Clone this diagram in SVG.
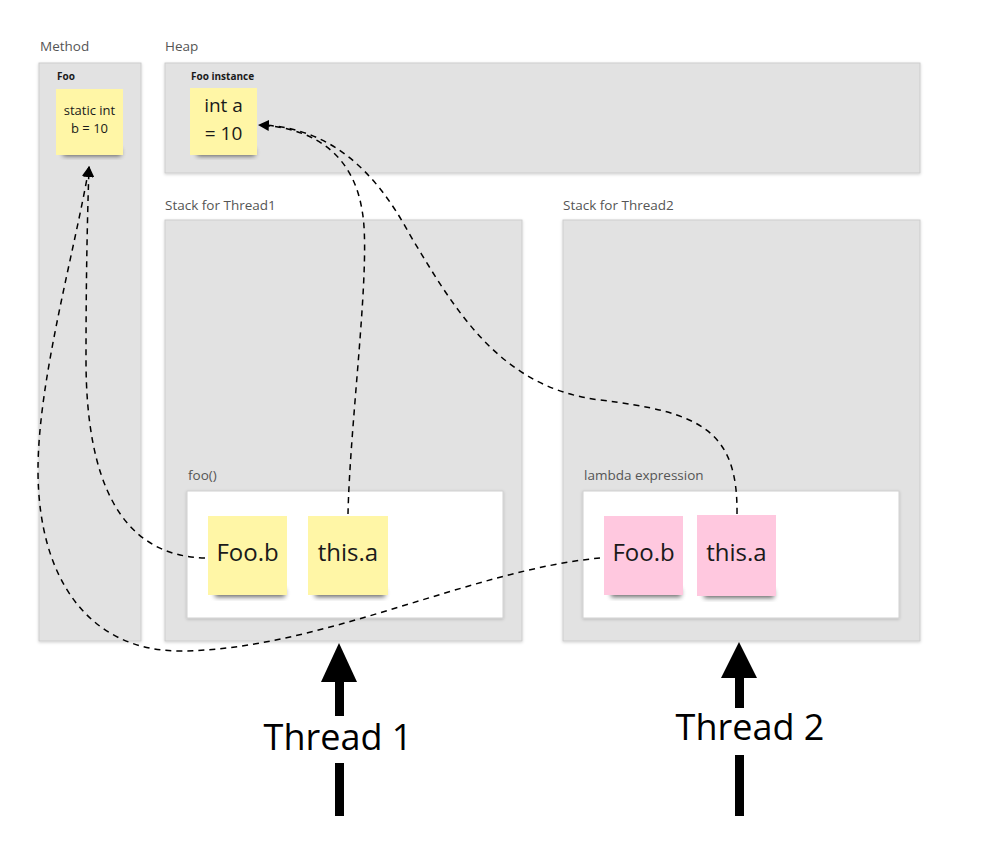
<svg xmlns="http://www.w3.org/2000/svg" width="984" height="854" viewBox="0 0 984 854">
<defs>
<filter id="sh" x="-20%" y="-50%" width="140%" height="200%"><feGaussianBlur stdDeviation="2.5"/></filter>
<filter id="fs" x="-5%" y="-5%" width="110%" height="110%"><feDropShadow dx="0" dy="1" stdDeviation="1.5" flood-color="#000" flood-opacity="0.18"/></filter>
<marker id="ah" viewBox="0 0 10 10" refX="9" refY="5" markerWidth="11" markerHeight="11" markerUnits="userSpaceOnUse" orient="auto"><path d="M0 0 L10 5 L0 10 Z" fill="#000"/></marker>
</defs>
<style>
.frame{fill:#e2e2e2;stroke:#cdcdcd;stroke-width:1;filter:url(#fs)}
.white{fill:#fff;stroke:#d0d0d0;stroke-width:1;filter:url(#fs)}
.lbl{font-family:"Open Sans","Noto Sans",sans-serif;font-size:13.5px;fill:#555}
.blbl{font-family:"Open Sans","Noto Sans",sans-serif;font-size:10px;font-weight:bold;fill:#1a1a1a}
.yel{fill:#fff6a6}
.pink{fill:#ffc8df}
.shd{fill:#000;opacity:0.6;filter:url(#sh)}
.st{font-family:"Open Sans","Noto Sans",sans-serif;fill:#1a1a1a;text-anchor:middle}
.conn{fill:none;stroke:#000;stroke-width:1.5;stroke-dasharray:6 5}
.big{font-family:"Open Sans","Noto Sans",sans-serif;font-size:36px;fill:#000;text-anchor:middle}
</style>
<rect width="984" height="854" fill="#fff"/>

<g id="method-frame">
<text class="lbl" x="40" y="51">Method</text>
<rect class="frame" x="39" y="63" width="102" height="578"/>
<text class="blbl" x="57" y="80">Foo</text>
</g>
<g id="heap-frame">
<text class="lbl" x="165" y="51">Heap</text>
<rect class="frame" x="165" y="63" width="755" height="110"/>
<text class="blbl" x="191" y="80">Foo instance</text>
</g>
<g id="stack-thread1">
<text class="lbl" x="165" y="210">Stack for Thread1</text>
<rect class="frame" x="165" y="220" width="357" height="421"/>
</g>
<g id="stack-thread2">
<text class="lbl" x="563" y="210">Stack for Thread2</text>
<rect class="frame" x="563" y="220" width="357" height="421"/>
</g>
<g id="foo-frame">
<text class="lbl" x="188" y="480">foo()</text>
<rect class="white" x="187" y="491" width="316" height="127"/>
</g>
<g id="lambda-frame">
<text class="lbl" x="584" y="480">lambda expression</text>
<rect class="white" x="583" y="491" width="316" height="127"/>
</g>

<g id="static-b">
<rect class="shd" x="63" y="149" width="58" height="7"/>
<rect class="yel" x="56" y="89" width="67" height="66"/>
<text class="st" x="89.500" y="115" font-size="13">static int</text>
<text class="st" x="89.500" y="133" font-size="13">b = 10</text>
</g>
<g id="int-a">
<rect class="shd" x="197" y="149" width="58" height="7"/>
<rect class="yel" x="190" y="88" width="67" height="67"/>
<text class="st" x="223.500" y="112" font-size="19">int a</text>
<text class="st" x="223.500" y="140" font-size="19">= 10</text>
</g>
<g id="t1-foo-b">
<rect class="shd" x="215" y="589" width="70" height="8"/>
<rect class="yel" x="208" y="516" width="79" height="79"/>
<text class="st" x="247.500" y="561" font-size="24">Foo.b</text>
</g>
<g id="t1-this-a">
<rect class="shd" x="315" y="589" width="70" height="8"/>
<rect class="yel" x="308" y="516" width="80" height="79"/>
<text class="st" x="348" y="561" font-size="24">this.a</text>
</g>
<g id="t2-foo-b">
<rect class="shd" x="611" y="589" width="70" height="8"/>
<rect class="pink" x="604" y="516" width="79" height="79"/>
<text class="st" x="643.500" y="561" font-size="24">Foo.b</text>
</g>
<g id="t2-this-a">
<rect class="shd" x="704" y="590" width="70" height="8"/>
<rect class="pink" x="697" y="515" width="79" height="81"/>
<text class="st" x="736.500" y="561" font-size="24">this.a</text>
</g>

<g id="connectors">
<path class="conn" d="M205 558 C120 556 86 480 86 360 C86 260 88 200 89 167" marker-end="url(#ah)"/>
<path class="conn" d="M600 558 C470 570 320 650 180 651 C90 651 38 580 38 470 C38 380 75 250 89 167" marker-end="url(#ah)"/>
<path class="conn" d="M348 514 C350 420 372 260 362 210 C354 160 320 128 259 125" marker-end="url(#ah)"/>
<path class="conn" d="M737 514 C738 430 700 412 600 400 C500 388 455 310 410 235 C375 170 330 128 262 125"/>
</g>

<g id="thread1">
<path d="M339 643 L357 682 L321 682 Z" fill="#000"/>
<rect x="335" y="680" width="9" height="36" fill="#000"/>
<text class="big" x="338" y="750">Thread 1</text>
<rect x="335" y="763" width="9" height="53" fill="#000"/>
</g>
<g id="thread2">
<path d="M739 642 L757 678 L721 678 Z" fill="#000"/>
<rect x="735" y="676" width="9" height="32" fill="#000"/>
<text class="big" x="750" y="740">Thread 2</text>
<rect x="735" y="755" width="9" height="61" fill="#000"/>
</g>
</svg>
